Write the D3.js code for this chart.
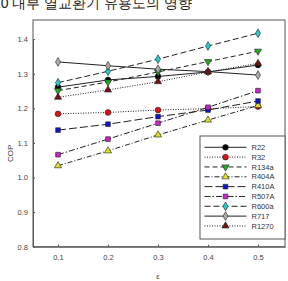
<!DOCTYPE html>
<html>
<head>
<meta charset="utf-8">
<script src="https://cdn.jsdelivr.net/npm/d3@7"></script>
<style>
  body { margin: 0; background: #fff; }
  svg { display: block; }
  text { font-family: "Liberation Sans", Arial, sans-serif; }
</style>
</head>
<body>
<svg id="chart" width="288" height="281"></svg>
<script>
const epsilon = [0.1, 0.2, 0.3, 0.4, 0.5];
const xTicks = [0.1, 0.2, 0.3, 0.4, 0.5];
const yTicks = [0.8, 0.9, 1.0, 1.1, 1.2, 1.3, 1.4];

const R22   = [1.261, 1.282, 1.292, 1.305, 1.325];
const R32   = [1.184, 1.188, 1.195, 1.199, 1.205];
const R134a = [1.251, 1.276, 1.305, 1.335, 1.365];
const R404A = [1.034, 1.077, 1.123, 1.166, 1.208];
const R410A = [1.137, 1.154, 1.176, 1.195, 1.221];
const R507A = [1.066, 1.111, 1.157, 1.203, 1.251];
const R600a = [1.274, 1.307, 1.342, 1.380, 1.417];
const R717  = [1.334, 1.323, 1.313, 1.306, 1.296];
const R1270 = [1.232, 1.253, 1.277, 1.305, 1.330];

const series = [
  { name: 'R22',   values: R22,   marker: 'circle',   fill: '#000000', dash: null },
  { name: 'R32',   values: R32,   marker: 'circle',   fill: '#dd1111', dash: '1,1.5' },
  { name: 'R134a', values: R134a, marker: 'tridown',  fill: '#22aa22', dash: '5,3' },
  { name: 'R404A', values: R404A, marker: 'triangle', fill: '#dddd22', dash: '5,2,1,2' },
  { name: 'R410A', values: R410A, marker: 'square',   fill: '#1111cc', dash: '8,3' },
  { name: 'R507A', values: R507A, marker: 'square',   fill: '#cc22cc', dash: '6,2,1.5,2' },
  { name: 'R600a', values: R600a, marker: 'diamond',  fill: '#22cccc', dash: '6,3' },
  { name: 'R717',  values: R717,  marker: 'diamond',  fill: '#aaaaaa', dash: null },
  { name: 'R1270', values: R1270, marker: 'triangle', fill: '#771111', dash: '1,1.5' }
];

const svg = d3.select('#chart');
const mLeft = 33, mRight = 285, mTop = 20, mBottom = 246.7;

const x = d3.scaleLinear().domain([0.05, 0.554]).range([mLeft, mRight]);
const y = d3.scaleLinear().domain([0.8, 1.4]).range([mBottom, mBottom - 6 * 34.6]);

// title (clipped at top)
svg.append('text')
  .attr('x', 192).attr('y', 8)
  .attr('text-anchor', 'end')
  .attr('font-size', 14)
  .attr('font-family', '"Noto Sans CJK KR", sans-serif')
  .attr('fill', '#222')
  .text('그림 10 내부 열교환기 유용도의 영향');

// frame
svg.append('rect')
  .attr('x', mLeft).attr('y', mTop)
  .attr('width', mRight - mLeft).attr('height', mBottom - mTop)
  .attr('fill', 'none').attr('stroke', '#555').attr('stroke-width', 1);

const xAxis = svg.append('g')
  .attr('transform', `translate(0,${mBottom})`)
  .call(d3.axisBottom(x).tickValues(xTicks).tickFormat(d3.format('.1f')).tickSizeInner(-2).tickSizeOuter(0).tickPadding(8));
const yAxis = svg.append('g')
  .attr('transform', `translate(${mLeft},0)`)
  .call(d3.axisLeft(y).tickValues(yTicks).tickFormat(d3.format('.1f')).tickSizeInner(-2).tickSizeOuter(0).tickPadding(5));

[xAxis, yAxis].forEach(g => {
  g.select('.domain').attr('stroke', '#555');
  g.selectAll('.tick line').attr('stroke', '#555');
  g.selectAll('.tick text').attr('fill', '#444').attr('font-size', 7.5);
});

svg.append('text')
  .attr('transform', `translate(13,${(mTop + mBottom) / 2 + 20}) rotate(-90)`)
  .attr('text-anchor', 'middle')
  .attr('font-size', 8).attr('fill', '#444')
  .text('COP');

svg.append('text')
  .attr('x', 158).attr('y', 279)
  .attr('text-anchor', 'middle')
  .attr('font-size', 8).attr('fill', '#444')
  .text('ε');

function markerPath(type) {
  const s = {
    circle: d3.symbolCircle, square: d3.symbolSquare, triangle: d3.symbolTriangle,
    tridown: d3.symbolTriangle, diamond: d3.symbolDiamond
  }[type];
  const size = { circle: 26, square: 22, triangle: 22, tridown: 22, diamond: 22 }[type];
  return d3.symbol().type(s).size(size)();
}

function drawMarker(g, s, cx, cy) {
  g.append('path')
    .attr('d', markerPath(s.marker))
    .attr('transform', `translate(${cx},${cy})` + (s.marker === 'tridown' ? ' rotate(180)' : ''))
    .attr('fill', s.fill).attr('stroke', '#222').attr('stroke-width', 0.6);
}

const line = d3.line().x((d, i) => x(epsilon[i])).y(d => y(d));

const plot = svg.append('g');
series.forEach(s => {
  plot.append('path')
    .datum(s.values)
    .attr('d', line)
    .attr('fill', 'none')
    .attr('stroke', '#222')
    .attr('stroke-width', 1)
    .attr('stroke-dasharray', s.dash);
});
series.forEach(s => {
  s.values.forEach((v, i) => drawMarker(plot, s, x(epsilon[i]), y(v)));
});

// legend
const lg = svg.append('g');
lg.append('rect')
  .attr('x', 200).attr('y', 136).attr('width', 85).attr('height', 103)
  .attr('fill', '#fff').attr('stroke', '#555').attr('stroke-width', 1);
series.forEach((s, i) => {
  const ly = 147.3 + i * 9.83;
  lg.append('line')
    .attr('x1', 204.5).attr('x2', 246.5).attr('y1', ly).attr('y2', ly)
    .attr('stroke', '#222').attr('stroke-width', 1)
    .attr('stroke-dasharray', s.dash);
  drawMarker(lg, s, 225.5, ly);
  lg.append('text')
    .attr('x', 251.5).attr('y', ly + 2.7)
    .attr('font-size', 7.5).attr('fill', '#333')
    .text(s.name);
});
</script>
</body>
</html>
